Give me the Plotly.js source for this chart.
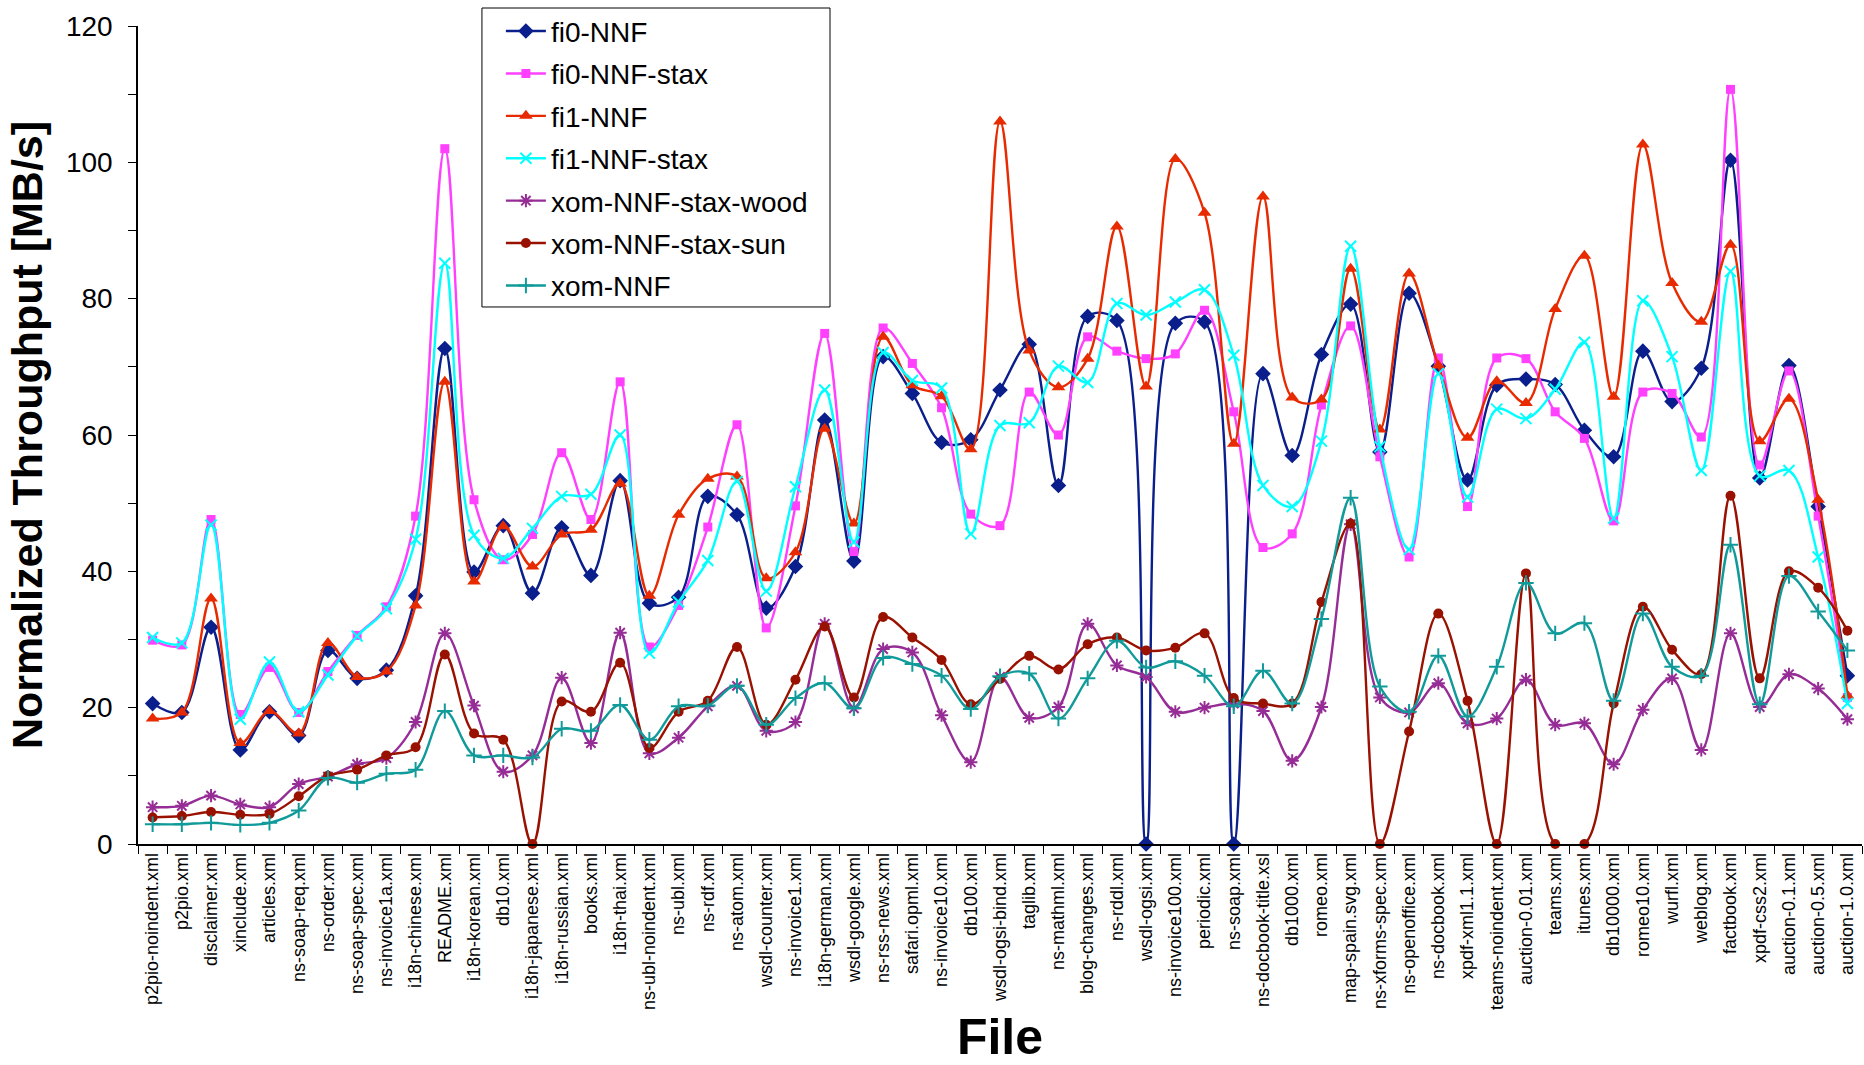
<!DOCTYPE html>
<html>
<head>
<meta charset="utf-8">
<script src="https://cdn.plot.ly/plotly-3.0.1.min.js"></script>
<style>html,body{margin:0;padding:0;background:#fff;}#chart{width:1864px;height:1065px;}</style>
</head>
<body>
<div id="chart"></div>
<script>
const files = ["p2pio-noindent.xml","p2pio.xml","disclaimer.xml","xinclude.xml","articles.xml","ns-soap-req.xml","ns-order.xml","ns-soap-spec.xml","ns-invoice1a.xml","i18n-chinese.xml",
"README.xml","i18n-korean.xml","db10.xml","i18n-japanese.xml","i18n-russian.xml","books.xml","i18n-thai.xml","ns-ubl-noindent.xml","ns-ubl.xml","ns-rdf.xml",
"ns-atom.xml","wsdl-counter.xml","ns-invoice1.xml","i18n-german.xml","wsdl-google.xml","ns-rss-news.xml","safari.opml.xml","ns-invoice10.xml","db100.xml","wsdl-ogsi-bind.xml",
"taglib.xml","ns-mathml.xml","blog-changes.xml","ns-rddl.xml","wsdl-ogsi.xml","ns-invoice100.xml","periodic.xml","ns-soap.xml","ns-docbook-title.xsl","db1000.xml",
"romeo.xml","map-spain.svg.xml","ns-xforms-spec.xml","ns-openoffice.xml","ns-docbook.xml","xpdf-xml1.1.xml","teams-noindent.xml","auction-0.01.xml","teams.xml","itunes.xml",
"db10000.xml","romeo10.xml","wurfl.xml","weblog.xml","factbook.xml","xpdf-css2.xml","auction-0.1.xml","auction-0.5.xml","auction-1.0.xml"];

const fi0NNF = [20.6,19.3,31.8,13.8,19.4,15.9,28.4,24.3,25.5,36.4,
72.7,39.9,46.7,36.8,46.4,39.4,53.3,35.3,36.2,51.0,
48.3,34.6,40.7,62.2,41.5,71.5,66.1,58.9,59.3,66.6,
73.3,52.6,77.4,76.8,0,76.4,76.6,0,69.0,57.0,
71.8,79.2,57.5,80.8,70.1,53.4,67.3,68.2,67.4,60.7,
56.8,72.3,64.9,69.8,100.3,53.7,70.2,49.5,24.7];

const fi0NNFstax = [29.9,29.2,47.6,19.0,25.9,19.3,25.3,30.6,34.8,48.1,
102.0,50.5,41.7,45.4,57.4,47.6,67.8,28.9,35.0,46.5,
61.5,31.7,49.6,74.9,42.9,75.7,70.5,64.0,48.4,46.7,
66.3,60.0,74.4,72.3,71.2,71.9,78.3,63.4,43.5,45.5,
64.4,76.0,56.8,42.1,71.3,49.5,71.3,71.2,63.4,59.5,
47.4,66.3,66.1,59.7,110.7,55.6,69.4,48.1,21.5];

const fi1NNF = [18.4,19.3,36.0,14.8,19.5,16.2,29.5,24.5,25.3,35.0,
67.8,38.5,46.6,40.7,45.4,46.1,52.9,36.4,48.3,53.6,
53.9,39.0,42.8,60.9,47.0,74.4,67.3,65.7,57.9,106.0,
72.4,67.0,71.2,90.6,67.1,100.5,92.6,58.7,95.0,65.5,
65.2,84.4,60.8,83.7,70.2,59.6,67.9,64.7,78.5,86.3,
65.6,102.6,82.3,76.6,87.9,59.1,65.3,50.5,21.8];

const fi1NNFstax = [30.3,29.5,46.8,18.3,26.7,19.4,24.8,30.5,34.5,44.7,
85.2,45.3,41.9,46.3,51.0,51.3,60.0,28.0,35.5,41.6,
53.2,37.1,52.4,66.6,44.3,72.1,68.0,66.9,45.5,61.4,
61.8,70.1,67.7,79.3,77.6,79.5,81.3,71.7,52.6,49.5,
59.1,87.7,58.3,43.2,69.0,50.9,63.8,62.4,66.7,73.6,
47.8,79.7,71.5,54.8,84.0,54.0,54.8,42.1,20.6];

const xomWood = [5.4,5.6,7.1,5.8,5.4,8.8,9.9,11.7,12.6,17.9,
30.9,20.3,10.6,13.0,24.4,14.8,31.0,13.3,15.6,20.2,
23.2,16.6,17.9,32.3,19.9,28.6,28.1,18.9,12.0,24.5,
18.5,20.1,32.3,26.2,24.5,19.4,20.0,20.6,19.5,12.2,
20.1,46.9,21.5,19.3,23.6,17.7,18.4,24.1,17.5,17.7,
11.7,19.7,24.3,13.8,30.9,20.1,24.9,22.8,18.3];

const xomSun = [3.9,4.1,4.7,4.3,4.4,7.0,10.0,10.9,13.0,14.2,
27.8,16.2,15.3,0,20.9,19.4,26.6,14.1,19.4,21.0,
28.9,17.5,24.1,31.9,21.5,33.3,30.3,27.0,20.5,24.2,
27.6,25.6,29.3,30.3,28.4,28.8,30.9,21.4,20.6,20.6,
35.5,47.0,0,16.5,33.8,21.0,0,39.7,0,0,
20.6,34.8,28.5,24.9,51.1,24.3,40.0,37.6,31.3];

const xomNNF = [2.9,2.9,3.1,2.8,3.1,4.9,9.7,9.0,10.3,10.9,
19.5,13.0,13.0,12.7,16.9,16.6,20.4,15.3,20.2,20.3,
23.2,17.5,21.4,23.6,19.9,27.3,26.4,24.7,19.8,24.6,
25.0,18.4,24.3,29.8,25.9,26.8,24.7,20.2,25.4,20.6,
33.0,50.8,23.1,19.4,27.6,18.7,26.0,38.3,30.9,32.4,
21.0,33.8,26.0,24.7,43.9,20.5,39.3,34.1,28.4];

const yTickVals = [0,10,20,30,40,50,60,70,80,90,100,110,120];
const yTickText = ["0","","20","","40","","60","","80","","100","","120"];

const seriesNames = ["fi0-NNF","fi0-NNF-stax","fi1-NNF","fi1-NNF-stax","xom-NNF-stax-wood","xom-NNF-stax-sun","xom-NNF"];
const seriesData = [fi0NNF, fi0NNFstax, fi1NNF, fi1NNFstax, xomWood, xomSun, xomNNF];
const colors = ["#0a1e8c","#ff40ff","#e82a00","#00ffff","#962d96","#991100","#119a9a"];
const symbols = ["diamond","square","triangle-up","x-thin-open","asterisk-open","circle","cross-thin-open"];
const sizes = [12,9,12,11,11,10,11];

const traces = seriesNames.map((n,i)=>{
  const open = symbols[i].indexOf("open")>=0;
  return {
    type:"scatter", mode:"lines+markers", name:n, x:files, y:seriesData[i],
    legendgroup:"g"+i,
    line:{color:colors[i], width:2.4, shape:"spline", smoothing:1},
    marker:{symbol:symbols[i], size:sizes[i], color:colors[i], line:{color:colors[i], width: open?2:0}},
    cliponaxis:false
  };
});

const layout = {
  width:1864, height:1065,
  margin:{l:138, r:2, t:26, b:221},
  paper_bgcolor:"#fff", plot_bgcolor:"#fff",
  font:{family:"Liberation Sans, Arial, sans-serif", color:"#000"},
  showlegend:true,
  shapes:[{type:"rect", xref:"paper", yref:"paper", x0:0.1995, x1:0.4014, y0:0.6565, y1:1.022,
           line:{color:"#000", width:1}, fillcolor:"#fff", layer:"above"}],
  legend:{x:0.2105, y:1.024, xanchor:"left", yanchor:"top", bgcolor:"rgba(0,0,0,0)", borderwidth:0,
          font:{size:28, color:"#000"}, tracegroupgap:3, traceorder:"grouped", itemwidth:40},
  xaxis:{type:"category", range:[-0.5, files.length-0.5], tickson:"boundaries", ticks:"outside", ticklen:8, tickcolor:"#000",
         showline:true, linecolor:"#000", linewidth:1.5, showgrid:false, zeroline:false, tickangle:-90,
         tickfont:{size:18, color:"#000"},
         title:{text:"File", font:{size:50, color:"#000", family:"Liberation Sans, Arial, sans-serif", weight:"bold"}, standoff:36}},
  yaxis:{range:[0,120], tickvals:yTickVals, ticktext:yTickText, ticks:"outside", ticklen:8, tickcolor:"#000",
         showline:true, linecolor:"#000", linewidth:1.5, showgrid:false, zeroline:false,
         tickfont:{size:28, color:"#000"}, ticklabelstandoff:10,
         title:{text:"Normalized Throughput [MB/s]", font:{size:43, color:"#000", family:"Liberation Sans, Arial, sans-serif", weight:"bold"}, standoff:10}}
};

Plotly.newPlot("chart", traces, layout, {displayModeBar:false});
</script>
</body>
</html>
